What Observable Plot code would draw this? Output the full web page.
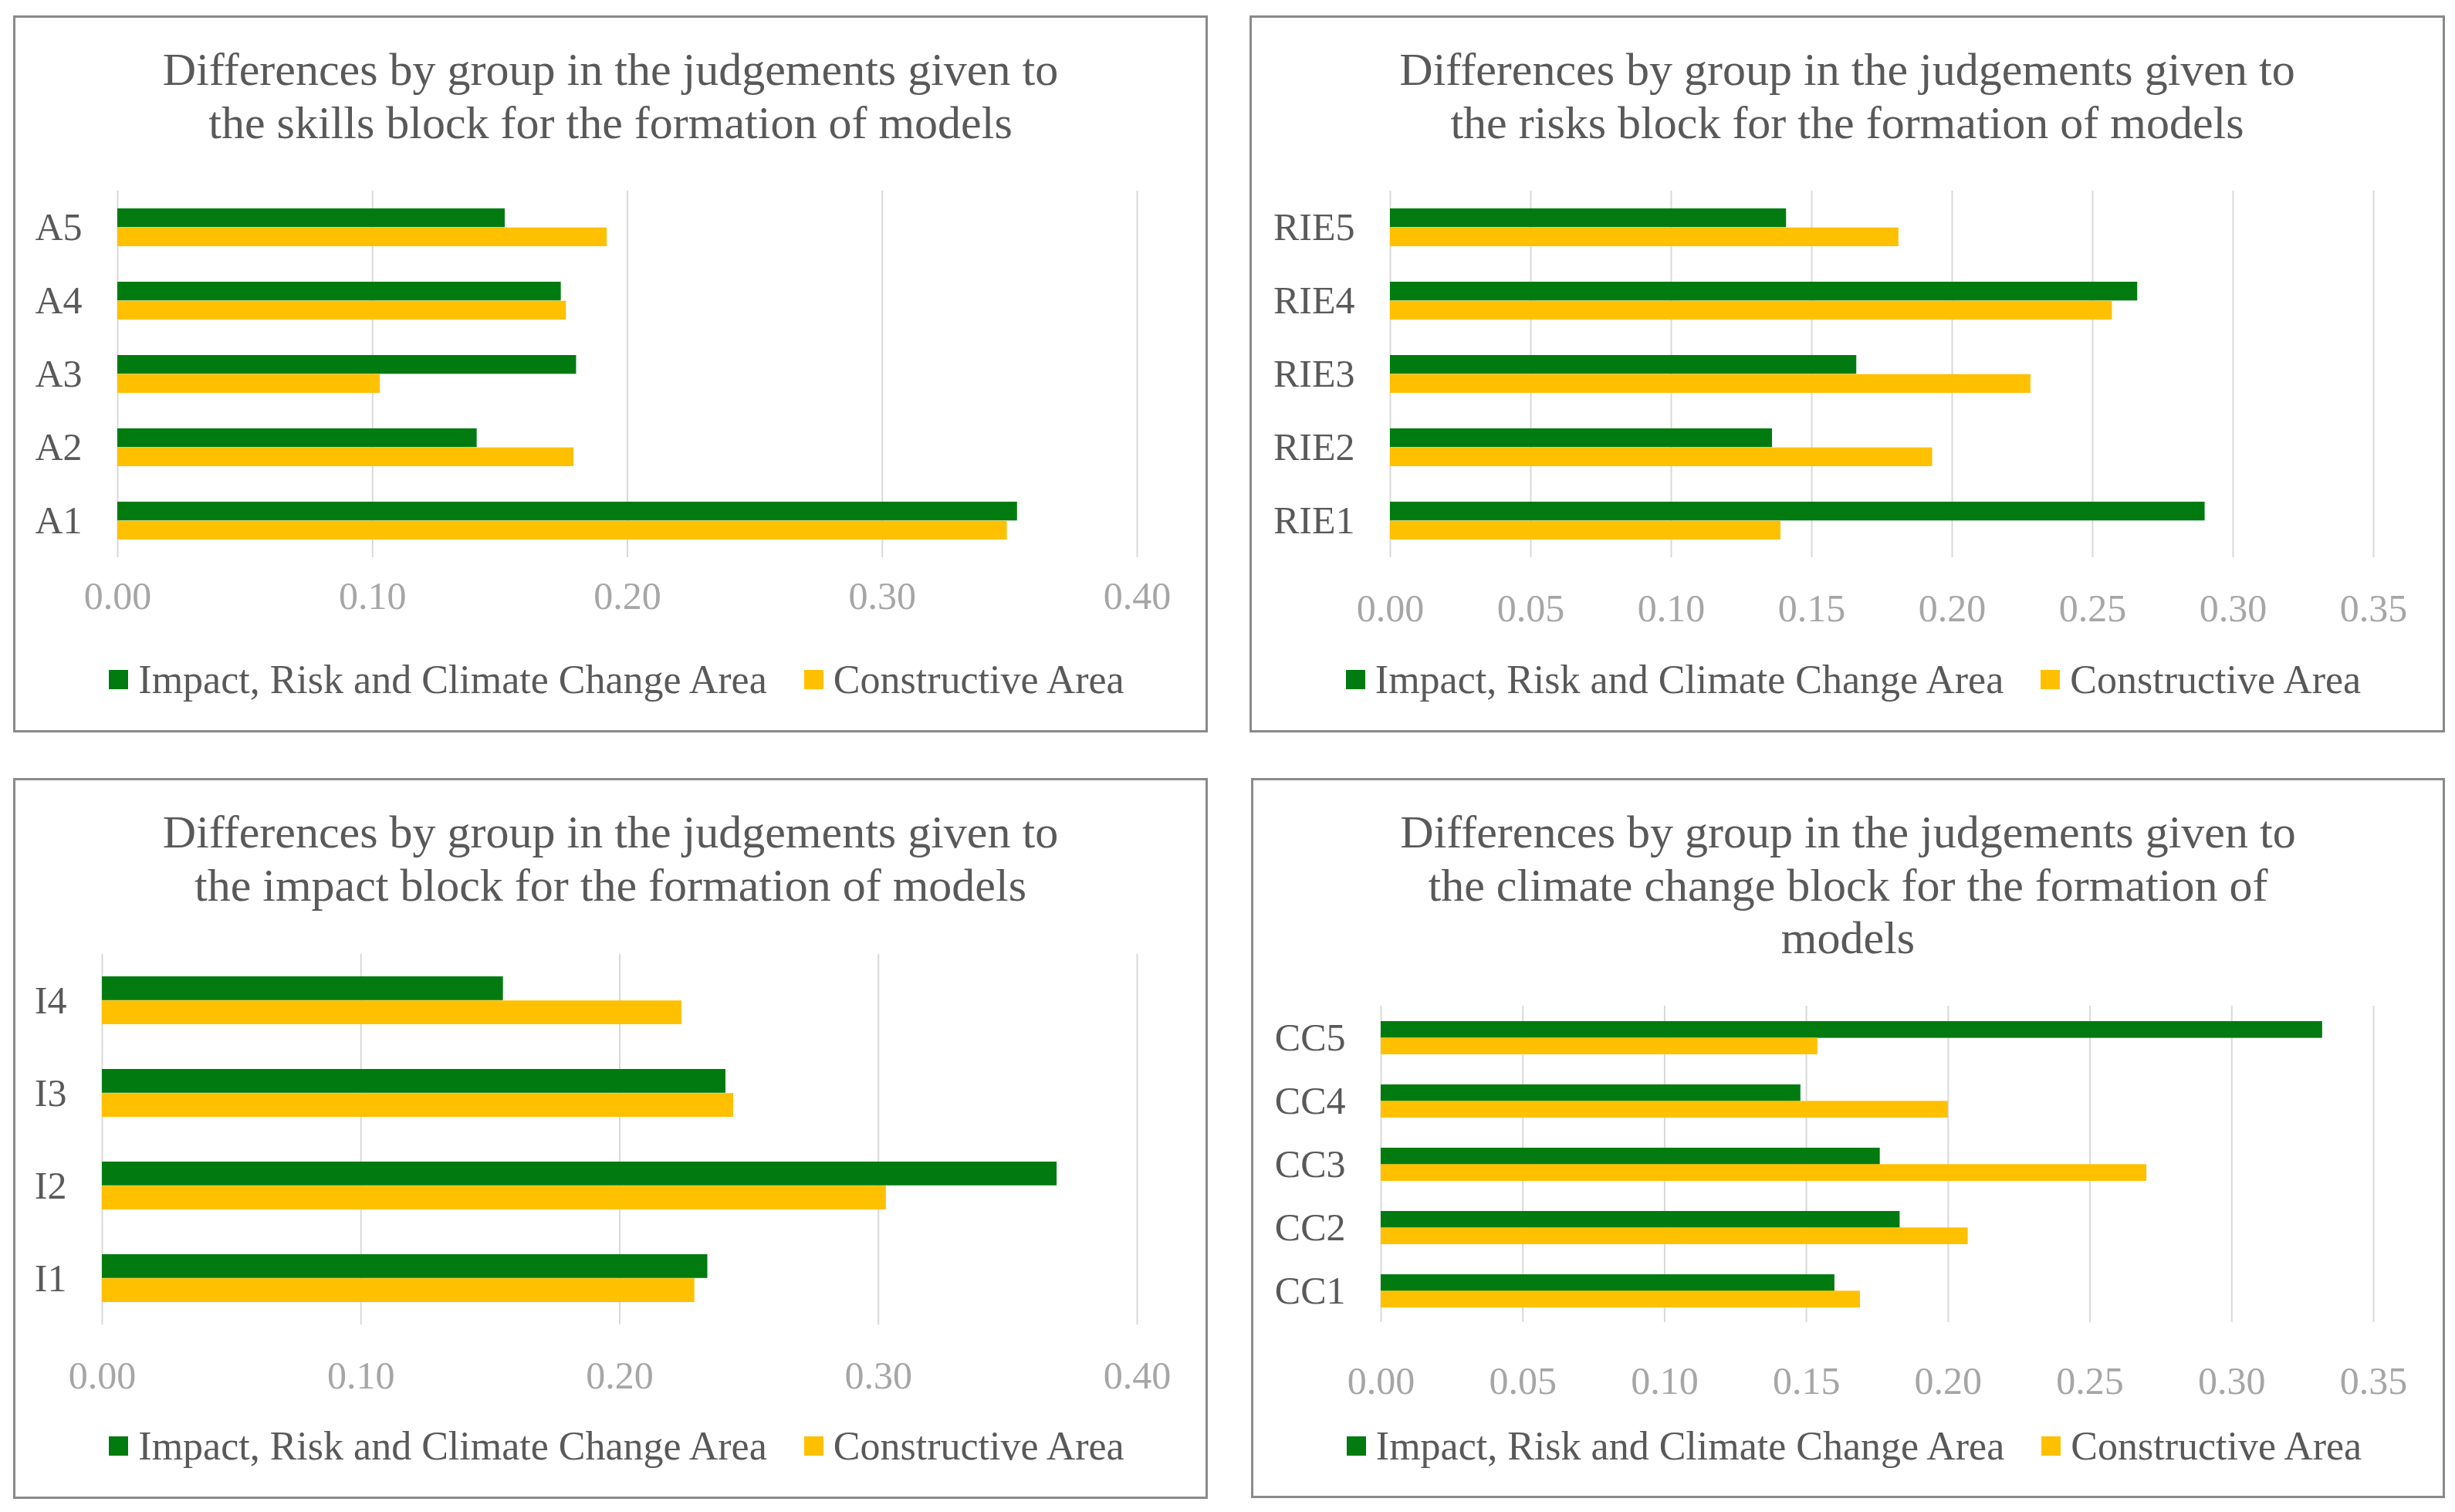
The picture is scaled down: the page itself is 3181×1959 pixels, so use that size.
<!DOCTYPE html>
<html><head><meta charset="utf-8">
<script src="https://cdn.jsdelivr.net/npm/d3@7"></script>
<script src="https://cdn.jsdelivr.net/npm/@observablehq/plot@0.6"></script>
<style>
html,body{margin:0;padding:0;background:#fff;}
body{width:3181px;height:1959px;position:relative;overflow:hidden;font-family:"Liberation Serif","Times New Roman",serif;}
.frame{position:absolute;border:3px solid #8a8a8a;box-sizing:border-box;}
.title{position:absolute;text-align:center;font-size:60px;line-height:68.5px;color:#595959;white-space:nowrap;}
.legend{position:absolute;display:flex;justify-content:center;align-items:center;font-size:52px;color:#595959;height:60px;white-space:nowrap;box-sizing:border-box;padding-left:16px;}
.sw{width:25px;height:25px;display:inline-block;margin-right:13px;}
.item{display:flex;align-items:center;margin:0 24px;}
.plot{position:absolute;}
</style></head><body>
<script>
// ---- data ----
const seriesNames = ["Impact, Risk and Climate Change Area", "Constructive Area"];

const skillsCats = ["A1", "A2", "A3", "A4", "A5"];
const skillsIRCC = [0.353, 0.141, 0.180, 0.174, 0.152];
const skillsConst = [0.349, 0.179, 0.103, 0.176, 0.192];

const risksCats = ["RIE1", "RIE2", "RIE3", "RIE4", "RIE5"];
const risksIRCC = [0.290, 0.136, 0.166, 0.266, 0.141];
const risksConst = [0.139, 0.193, 0.228, 0.257, 0.181];

const impactCats = ["I1", "I2", "I3", "I4"];
const impactIRCC = [0.234, 0.369, 0.241, 0.155];
const impactConst = [0.229, 0.303, 0.244, 0.224];

const climateCats = ["CC1", "CC2", "CC3", "CC4", "CC5"];
const climateIRCC = [0.160, 0.183, 0.176, 0.148, 0.332];
const climateConst = [0.169, 0.207, 0.270, 0.200, 0.154];

const ticksTenth = [0, 0.1, 0.2, 0.3, 0.4];
const ticksTwentieth = [0, 0.05, 0.10, 0.15, 0.20, 0.25, 0.30, 0.35];

const titleLine1 = "Differences by group in the judgements given to";
const skillsTitle = [titleLine1, "the skills block for the formation of models"];
const risksTitle = [titleLine1, "the risks block for the formation of models"];
const impactTitle = [titleLine1, "the impact block for the formation of models"];
const climateTitle = [titleLine1, "the climate change block for the formation of", "models"];

// ---- style / layout ----
const GREEN = "#017b10";
const YELLOW = "#ffc000";
const FONT = "'Liberation Serif','Times New Roman',serif";

const panels = [
  {cats: skillsCats, a: skillsIRCC, b: skillsConst, ticks: ticksTenth, title: skillsTitle,
   box: [17, 20, 1565, 949], frame: [152, 247, 1473, 722], tickPad: 31, titleTop: 56, legendY: 880},
  {cats: risksCats, a: risksIRCC, b: risksConst, ticks: ticksTwentieth, title: risksTitle,
   box: [1619, 20, 3168, 949], frame: [1801, 247, 3075, 722], tickPad: 47, titleTop: 56, legendY: 880},
  {cats: impactCats, a: impactIRCC, b: impactConst, ticks: ticksTenth, title: impactTitle,
   box: [17, 1008, 1565, 1942], frame: [132, 1236, 1473, 1716], tickPad: 47, titleTop: 1044, legendY: 1873},
  {cats: climateCats, a: climateIRCC, b: climateConst, ticks: ticksTwentieth, title: climateTitle,
   box: [1621, 1008, 3168, 1941], frame: [1789, 1303, 3075, 1713], tickPad: 57, titleTop: 1044, legendY: 1873}
];

function makePanel(p) {
  const [bl, bt, br, bb] = p.box;
  const [fx0, ft, fx1, fb] = p.frame;

  const fr = document.createElement("div");
  fr.className = "frame";
  Object.assign(fr.style, {left: bl + "px", top: bt + "px", width: (br - bl) + "px", height: (bb - bt) + "px"});
  document.body.appendChild(fr);

  const t = document.createElement("div");
  t.className = "title";
  t.innerHTML = p.title.join("<br>");
  Object.assign(t.style, {left: bl + "px", width: (br - bl) + "px", top: p.titleTop + "px"});
  document.body.appendChild(t);

  const svgTop = ft - 30, svgBottom = fb + 110;
  const n = p.cats.length;
  const step = (fb - ft) / n;
  const bw = step * 0.52;
  const rows = p.cats.map((c, i) => ({cat: c, g: p.a[i], k: p.b[i]}));
  const maxX = p.ticks[p.ticks.length - 1];

  const chart = Plot.plot({
    width: br - bl,
    height: svgBottom - svgTop,
    marginLeft: fx0 - bl,
    marginRight: br - fx1,
    marginTop: ft - svgTop,
    marginBottom: svgBottom - fb,
    style: {fontFamily: FONT, fontSize: "50px", background: "transparent", color: "#595959"},
    x: {domain: [0, maxX], label: null},
    y: {domain: p.cats.slice().reverse(), paddingInner: 0.48, paddingOuter: 0.24, label: null},
    marks: [
      Plot.gridX(p.ticks, {stroke: "#d9d9d9", strokeOpacity: 1, strokeWidth: 2}),
      Plot.barX(rows, {x: "g", y: "cat", fill: GREEN, insetBottom: bw / 2}),
      Plot.barX(rows, {x: "k", y: "cat", fill: YELLOW, insetTop: bw / 2}),
      Plot.axisX({ticks: p.ticks, tickSize: 0, tickPadding: p.tickPad, tickFormat: d3.format(".2f"),
        fill: "#a6a6a6", fontSize: 50, label: null}),
      Plot.axisY({tickSize: 0, tickPadding: 46, fill: "#595959", fontSize: 50, label: null})
    ]
  });
  chart.classList.add("plot");
  Object.assign(chart.style, {left: bl + "px", top: svgTop + "px"});
  document.body.appendChild(chart);

  const lg = document.createElement("div");
  lg.className = "legend";
  Object.assign(lg.style, {left: bl + "px", width: (br - bl) + "px", top: (p.legendY - 30) + "px"});
  [GREEN, YELLOW].forEach((col, i) => {
    const it = document.createElement("div");
    it.className = "item";
    const sw = document.createElement("span");
    sw.className = "sw";
    sw.style.background = col;
    const tx = document.createElement("span");
    tx.textContent = seriesNames[i];
    it.appendChild(sw);
    it.appendChild(tx);
    lg.appendChild(it);
  });
  document.body.appendChild(lg);
}

panels.forEach(makePanel);
</script>
</body></html>
